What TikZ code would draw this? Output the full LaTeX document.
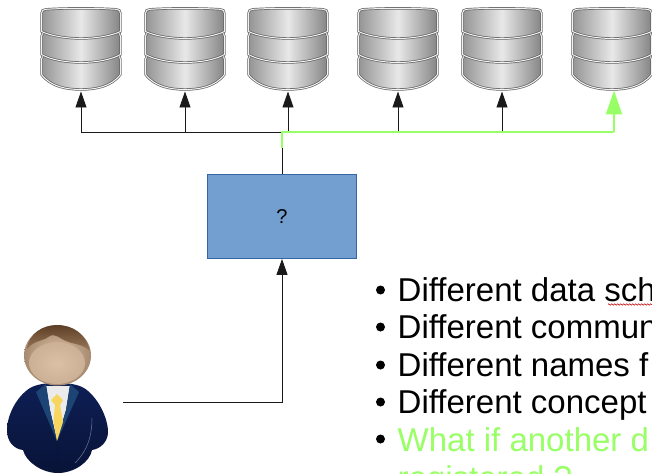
\documentclass[tikz,border=0pt]{standalone}
\usepackage{fontspec}
\setmainfont{Liberation Sans}
\usetikzlibrary{arrows.meta,decorations.pathmorphing,calc}
\definecolor{boxfill}{HTML}{729FCF}
\definecolor{boxline}{HTML}{3465A4}
\definecolor{newgreen}{HTML}{99FF66}
\definecolor{wire}{HTML}{1A1A1A}
\definecolor{navy}{HTML}{0E1F55}
\definecolor{navydark}{HTML}{081337}
\definecolor{lapel}{HTML}{1C4474}
\definecolor{hair}{HTML}{6E4A2C}
\definecolor{skin}{HTML}{DCC0A6}
\definecolor{skindark}{HTML}{A78B70}
\definecolor{tie}{HTML}{F7D55E}
\newcommand{\dbseg}[3]{%
  (-39.5,#1+5) .. controls (-39.5,#1+2) and (-38,#1+1) .. (-35,#1+0.8)
  .. controls (-15,#1-0.5) and (15,#1-0.5) .. (35,#1+0.8)
  .. controls (38,#1+1) and (39.5,#1+2) .. (39.5,#1+5)
  -- (39.5,#2) .. controls (30,#3-2.5) and (14,#3) .. (0,#3)
  .. controls (-14,#3) and (-30,#3-2.5) .. (-39.5,#2) -- cycle}
\tikzset{
  x=1pt,y=-1pt,
  wireline/.style={draw=wire,line width=0.9pt},
  greenline/.style={draw=newgreen,line width=2.4pt},
  blacktip/.style={-{Triangle[length=16pt,width=11pt]}},
  greentip/.style={-{Triangle[length=24pt,width=16pt]}},
  dbanchor/.style={minimum width=81pt,minimum height=82pt,inner sep=0pt,outer sep=0pt},
  qbox/.style={draw=boxline,fill=boxfill,line width=0.7pt,minimum width=149pt,minimum height=84pt,inner sep=0pt,font=\fontsize{20}{22}\selectfont},
  bullettext/.style={anchor=base west,inner sep=0pt,font=\fontsize{33}{37}\selectfont},
  bulletmark/.style={circle,fill=black,minimum size=9pt,inner sep=0pt},
  pics/dbstack/.style={code={
    \foreach \t/\s/\b in {46/66/81,23/46/54,0/23/30}{
      \path[left color=black!42,right color=black!48,middle color=black!9] \dbseg{\t}{\s}{\b};
      \draw[black!62,line width=2.4pt] \dbseg{\t}{\s}{\b};
      \draw[black!5,line width=1pt] \dbseg{\t}{\s}{\b};
    }
  }},
}
\begin{document}
\begin{tikzpicture}
\useasboundingbox (0,0) rectangle (652,473);
\clip (0,0) rectangle (652,473);

% database stacks
\foreach \n/\cx in {1/81,2/185,3/288,4/398,5/502,6/612}{
  \node[dbanchor] (db\n) at (\cx,49.5) {};
  \pic at (\cx,8.5) {dbstack};
}

% central box
\node[qbox] (q) at (282,216.6) {?};

% routing points
\coordinate (hub) at (282,132);
\coordinate (gstub) at (282,148);
\coordinate (bus1) at (db1.south |- hub);
\coordinate (bus2) at (db2.south |- hub);
\coordinate (bus3) at (db3.south |- hub);
\coordinate (bus4) at (db4.south |- hub);
\coordinate (bus5) at (db5.south |- hub);
\coordinate (gtop) at ($(db6.south)+(2,0)$);
\coordinate (bus6) at (gtop |- hub);
\coordinate (userout) at (123,402);
\coordinate (userbend) at (q.south |- userout);

% black routing
\draw[wireline] (q.north) -- (hub);
\draw[wireline] (bus1) -- (bus5);
\foreach \n in {1,2,3,4,5}{
  \draw[wireline,blacktip] (bus\n) -- ($(db\n.south)+(0,1)$);
}
\draw[wireline,blacktip] (userout) -- (userbend) -- (q.south);

% green route
\draw[greenline,line join=miter] (gstub) -- (hub) -- (bus6);
\draw[greenline,greentip] (bus6) -- (gtop);

% person
\path[top color=navy,bottom color=navydark]
  (30,388) .. controls (42,381) and (72,381) .. (84,388)
  .. controls (98,397) and (108,418) .. (108,432)
  .. controls (108,442) and (100,449) .. (92,450)
  .. controls (90,462) and (74,473) .. (58,473)
  .. controls (42,473) and (26,462) .. (23,450)
  .. controls (14,449) and (7,442) .. (7,430)
  .. controls (7,416) and (16,397) .. (30,388) -- cycle;
\fill[white!92!black] (46,386) -- (70,386) -- (66,410) -- (57,440) -- (50,410) -- cycle;
\fill[lapel] (46,384) -- (36,392) -- (57,441) -- (50,410) -- cycle;
\fill[lapel] (70,384) -- (79,392) -- (57,441) -- (66,410) -- cycle;
\fill[tie] (57,394) -- (63,400) -- (60,405) -- (63,422) -- (57,441) -- (53.5,422) -- (55,405) -- (51,400) -- cycle;
\draw[navy!60!white,line width=0.5pt] (92,418) .. controls (92,435) and (88,450) .. (75,463);
\draw[navydark,line width=0.5pt] (57,441) -- (57,473);
\shade[inner color=skin,outer color=skindark] (57.5,355.5) ellipse (33.5 and 30);
\shade[inner color=skin,outer color=skin!70!skindark] (57,363) ellipse (28 and 21);
\path[top color=hair!85!black,bottom color=hair!60!skin]
  (27,349) .. controls (29,333) and (43,325) .. (57,325)
  .. controls (73,325) and (86,334) .. (90,351)
  .. controls (82,343) and (72,345) .. (62,339)
  .. controls (56,335) and (52,334) .. (48,337)
  .. controls (44,341) and (34,340) .. (27,349) -- cycle;

% bullet list
\foreach \y/\txt/\col in {
  301/Different data sch/black,
  338/Different commun/black,
  376/Different names f/black,
  413/Different concept/black,
  451/What if another d/newgreen}{
  \node[bullettext,text=\col] at (397.5,\y) {\txt};
}
\node[bullettext,text=newgreen] at (397.5,489) {registered ?};
\foreach \y in {290,327,365,402,439}{
  \node[bulletmark] at (380.5,\y) {};
}
\draw[red!75!black,line width=0.5pt,decorate,decoration={zigzag,segment length=3pt,amplitude=0.8pt}] (608,304.5) -- (652,304.5);
\end{tikzpicture}
\end{document}
